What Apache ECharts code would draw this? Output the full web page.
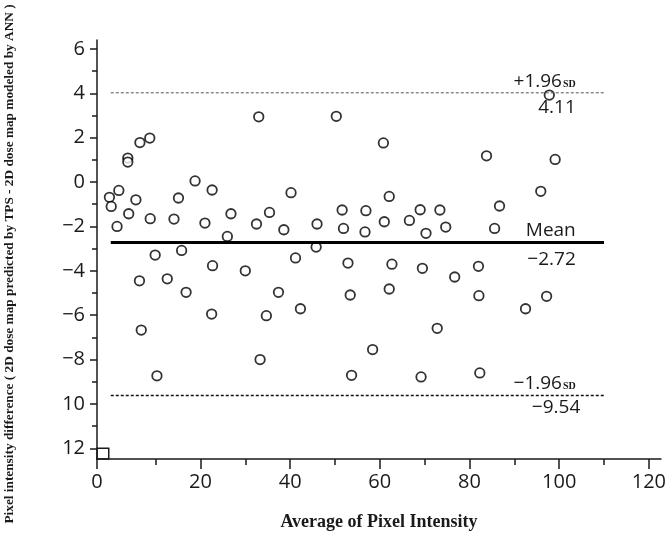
<!DOCTYPE html>
<html>
<head>
<meta charset="utf-8">
<script src="https://cdn.jsdelivr.net/npm/echarts@6/dist/echarts.min.js"></script>
<style>html,body{margin:0;padding:0;background:#fff}#c{width:669px;height:542px}</style>
</head>
<body>
<div id="c"></div>
<script>
// Average of pixel intensity (x) and pixel intensity difference (y)
const avgIntensity = [
  -0.3, 0.1, 1.8, 1.4, 3.8, 3.8, 4.0, 5.6, 6.5, 8.7, 8.8, 14.1, 15.1, 18.8, 21.0, 22.6, 26.8, 26.0, 32.5, 33.0,
  15.8, 9.9, 6.4, 12.6, 16.8, 22.7, 30.0, 22.5, 6.8, 10.3, 33.3,
  50.3, 60.8, 40.2, 35.4, 38.6, 46.0, 51.6, 51.9, 56.9, 56.7, 62.1, 61.0, 66.6, 69.0, 70.3, 73.4, 74.7, 45.8,
  41.2, 52.9, 62.7, 69.5, 37.4, 53.4, 62.1, 34.7, 42.3, 72.8, 58.4, 53.7, 69.2,
  97.8, 83.8, 99.1, 95.9, 86.7, 85.6, 82.0, 76.7, 82.1, 92.5, 97.2, 82.3
];
const intensityDiff = [
  -0.69, -1.10, -0.38, -2.0, 1.08, 0.90, -1.43, -0.80, 1.78, 1.98, -1.65, -1.67, -0.72, 0.05, -1.85, -0.36, -1.43, -2.45, -1.89, 2.94,
  -3.08, -3.29, -4.45, -4.36, -4.97, -3.77, -4.0, -5.95, -6.67, -8.73, -8.0,
  2.96, 1.76, -0.48, -1.37, -2.15, -1.89, -1.26, -2.09, -1.29, -2.25, -0.65, -1.79, -1.73, -1.25, -2.31, -1.26, -2.03, -2.93,
  -3.42, -3.65, -3.70, -3.89, -4.97, -5.09, -4.82, -6.02, -5.71, -6.59, -7.55, -8.71, -8.78,
  3.92, 1.18, 1.02, -0.42, -1.08, -2.09, -3.80, -4.28, -5.12, -5.71, -5.15, -8.60
];
// reference lines (drawn positions) and their printed labels
const meanValue = -2.72;
const upperLimit = 4.02;
const lowerLimit = -9.62;
const upperLabel = '4.11';
const meanLabel = '\u22122.72';
const lowerLabel = '\u22129.54';
const lineStartX = 0;
const lineEndX = 110;
const labelAnchorX = 103.7;
// axes
const xMin = -3.07, xMax = 122.7;
const yMin = -12.48, yMax = 6.4;
const xMajorTicks = [xMin, 20, 40, 60, 80, 100, 120];
const xMinorTicks = [10, 30, 50, 70, 90, 110];
const yMajorTicks = [-12, -10, -8, -6, -4, -2, 0, 2, 4, 6];
const yMinorTicks = [-11, -9, -7, -5, -3, -1, 1, 3, 5];
const xTitle = 'Average of Pixel Intensity';
const yTitle = 'Pixel intensity difference ( 2D dose map predicted by TPS - 2D dose map modeled by ANN )';

const points = avgIntensity.map((x, i) => [x, intensityDiff[i]]);
const tickFont = '"Open Sans", sans-serif';
const ink = '#1a1a1a';

const chart = echarts.init(document.getElementById('c'), null, {renderer: 'canvas'});

function fmtY(v) {
  if (v <= -10) return String(-v);
  if (v < 0) return '\u2212' + (-v);
  return String(v);
}

const annoLabel = (txt, dy) => ({
  show: true, position: 'left', distance: 0, offset: [0, dy],
  formatter: txt, color: ink, fontFamily: tickFont, fontSize: 19,
  rich: {
    n: {fontFamily: tickFont, fontSize: 19, color: ink},
    sd: {fontFamily: '"Liberation Serif", serif', fontWeight: 'bold', fontSize: 10, color: ink, padding: [5, 0, 0, 1]}
  }
});

const option = {
  backgroundColor: '#fff',
  animation: false,
  grid: {left: 97, right: 6, top: 40, bottom: 83},
  xAxis: [
    {
      type: 'value', min: xMin, max: xMax, position: 'bottom',
      name: xTitle, nameLocation: 'middle', nameGap: 54,
      nameTextStyle: {fontFamily: '"Liberation Serif", serif', fontWeight: 'bold', fontSize: 18, color: ink},
      axisLine: {show: true, onZero: false, lineStyle: {color: ink, width: 1.5}},
      axisTick: {show: true, customValues: xMajorTicks, length: 10, lineStyle: {color: ink, width: 1.5}},
      axisLabel: {show: true, customValues: xMajorTicks, margin: 13, fontFamily: tickFont, fontSize: 20, color: ink,
        formatter: v => (v < 0 ? '0' : String(v))},
      splitLine: {show: false}
    },
    {
      type: 'value', min: xMin, max: xMax, position: 'bottom', offset: 0,
      axisLine: {show: false, onZero: false},
      axisTick: {show: true, customValues: xMinorTicks, length: 6, lineStyle: {color: ink, width: 1.5}},
      axisLabel: {show: false},
      splitLine: {show: false}
    }
  ],
  yAxis: [
    {
      type: 'value', min: yMin, max: yMax, position: 'left',
      axisLine: {show: true, onZero: false, lineStyle: {color: ink, width: 1.5}},
      axisTick: {show: true, customValues: yMajorTicks, length: 7, lineStyle: {color: ink, width: 1.5}},
      axisLabel: {show: true, customValues: yMajorTicks, margin: 12, fontFamily: tickFont, fontSize: 20, color: ink,
        formatter: fmtY},
      splitLine: {show: false}
    },
    {
      type: 'value', min: yMin, max: yMax, position: 'left', offset: 0,
      axisLine: {show: false, onZero: false},
      axisTick: {show: true, customValues: yMinorTicks, length: 5, lineStyle: {color: ink, width: 1.5}},
      axisLabel: {show: false},
      splitLine: {show: false}
    }
  ],
  graphic: [{
    type: 'text', x: 10, y: 264, rotation: Math.PI / 2,
    style: {text: yTitle, fontFamily: '"Liberation Serif", serif', fontWeight: 'bold', fontSize: 13.3,
      fill: ink, align: 'center', verticalAlign: 'middle'}
  }],
  series: [
    {
      type: 'line', xAxisIndex: 0, yAxisIndex: 0, symbol: 'none', silent: true,
      data: [[lineStartX, upperLimit], [lineEndX, upperLimit]],
      lineStyle: {color: '#555', width: 1, type: [3, 2]},
      markPoint: {
        symbol: 'circle', symbolSize: 0,
        data: [
          {coord: [labelAnchorX, upperLimit], label: annoLabel('{n|+1.96}{sd|SD}', -11)},
          {coord: [labelAnchorX, upperLimit], label: annoLabel(upperLabel, 15)}
        ]
      },
      markArea: {
        silent: true,
        itemStyle: {color: 'rgba(0,0,0,0)', borderColor: ink, borderWidth: 1.5},
        data: [[{coord: [xMin, -12]}, {coord: [-0.45, yMin]}]]
      }
    },
    {
      type: 'line', xAxisIndex: 0, yAxisIndex: 0, symbol: 'none', silent: true,
      data: [[lineStartX, meanValue], [lineEndX, meanValue]],
      lineStyle: {color: '#000', width: 3},
      markPoint: {
        symbol: 'circle', symbolSize: 0,
        data: [
          {coord: [labelAnchorX, meanValue], label: annoLabel('Mean', -12)},
          {coord: [labelAnchorX, meanValue], label: annoLabel(meanLabel, 17)}
        ]
      }
    },
    {
      type: 'line', xAxisIndex: 0, yAxisIndex: 0, symbol: 'none', silent: true,
      data: [[lineStartX, lowerLimit], [lineEndX, lowerLimit]],
      lineStyle: {color: '#111', width: 1.5, type: [3, 2]},
      markPoint: {
        symbol: 'circle', symbolSize: 0,
        data: [
          {coord: [labelAnchorX, lowerLimit], label: annoLabel('{n|\u22121.96}{sd|SD}', -12)},
          {coord: [labelAnchorX + 1, lowerLimit], label: annoLabel(lowerLabel, 12)}
        ]
      }
    },
    {
      type: 'scatter', xAxisIndex: 0, yAxisIndex: 0,
      data: points,
      symbol: 'circle', symbolSize: 9.5,
      itemStyle: {color: '#fff', borderColor: '#000', borderWidth: 1.8}
    }
  ]
};
chart.setOption(option);
</script>
</body>
</html>
